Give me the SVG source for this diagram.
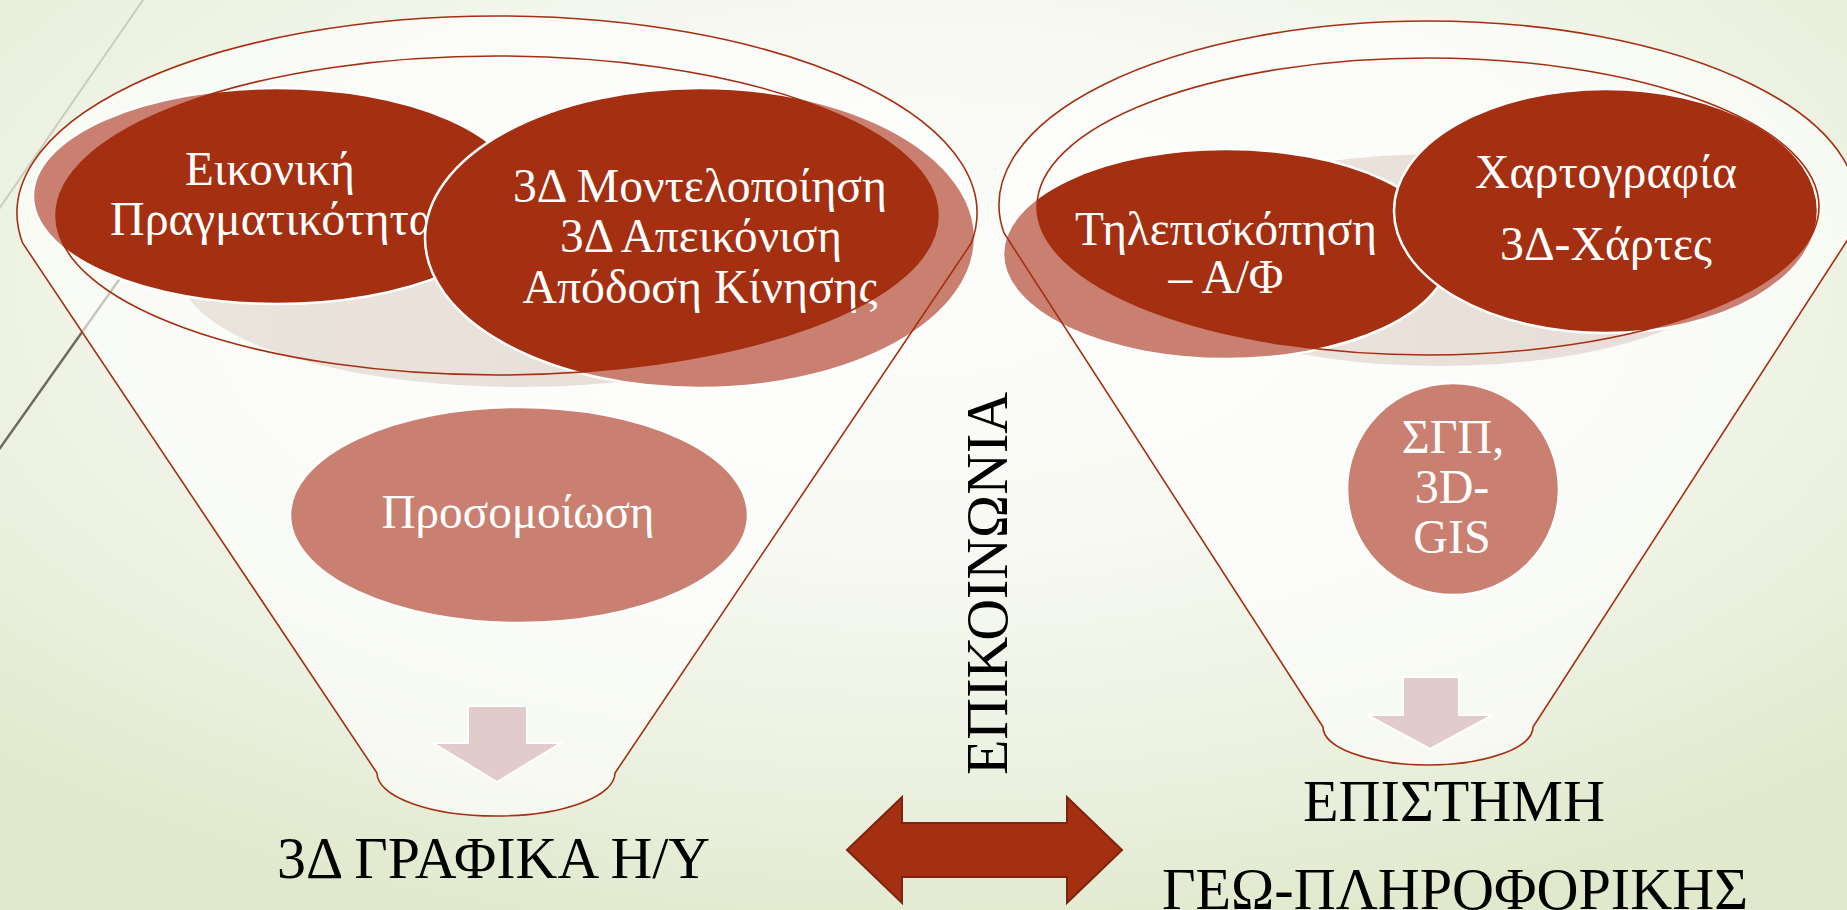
<svg xmlns="http://www.w3.org/2000/svg" width="1847" height="910" viewBox="0 0 1847 910">
<defs>
<radialGradient id="bg" cx="0.5" cy="0.32" r="0.72">
<stop offset="0" stop-color="#FCFDFB"/>
<stop offset="0.4" stop-color="#F7F9F2"/>
<stop offset="0.78" stop-color="#EAF0DE"/>
<stop offset="1" stop-color="#E1E9CD"/>
</radialGradient>
<linearGradient id="pinkL" x1="0" y1="0" x2="1" y2="0">
<stop offset="0" stop-color="#EAE4DC"/>
<stop offset="1" stop-color="#E8DCD8"/>
</linearGradient>
<clipPath id="clipL"><ellipse cx="497" cy="215.5" rx="441" ry="159.5"/></clipPath>
<clipPath id="clipR"><ellipse cx="1428" cy="206.5" rx="391" ry="148.5"/></clipPath>
<style>
.body{fill:#FFFFFF;fill-opacity:.62;stroke:none}
.outline{fill:none;stroke:#A52F11;stroke-width:1.6}
.pink{fill:url(#pinkL)}
.light{fill:#C98070}
.dark{fill:#A52F11}
.ring{fill:none;stroke:#FFFFFF;stroke-width:2.5}
.t{font-family:"Liberation Serif","Times New Roman",serif;fill:#FFFFFF;font-size:48px;text-anchor:middle}
.b{font-family:"Liberation Serif","Times New Roman",serif;fill:#000000;font-size:60px;text-anchor:middle}
.down{fill:#E2CBCB;stroke:#FFFFFF;stroke-width:2}
.dbl{fill:#A52F11;stroke:#7D2410;stroke-width:2}
</style>
</defs>
<rect x="0" y="0" width="1847" height="910" fill="url(#bg)"/>
<g id="decor">
<line x1="143" y1="0" x2="-1" y2="209" stroke="#C9CDB9" stroke-width="2"/>
<line x1="150" y1="236" x2="-2" y2="451" stroke="#6E6B58" stroke-width="2.5"/>
</g>
<g id="funnel-left-body">
<path class="body" d="M22.6,243 A480,197 0 1 1 971.4,243 L615,773 A119,43 0 0 1 377,773 Z"/>
<ellipse class="pink" cx="520" cy="272" rx="340" ry="115"/>
</g>
<g id="funnel-right-body">
<path class="body" d="M1004,233 A429,184 0 1 1 1852,233 L1533,727 A105,38 0 0 1 1323,727 Z"/>
<ellipse class="pink" cx="1440" cy="260" rx="300" ry="106"/>
</g>
<g id="node-vr">
<ellipse class="light" cx="277" cy="196" rx="244" ry="108"/>
<ellipse class="dark" cx="277" cy="196" rx="244" ry="108" clip-path="url(#clipL)"/>
<ellipse class="ring" cx="277" cy="196" rx="244" ry="108"/>
<text class="t" x="270" y="185" textLength="170" lengthAdjust="spacingAndGlyphs">Εικονική</text>
<text class="t" x="272" y="235">Πραγματικότητα</text>
</g>
<g id="node-3d">
<ellipse class="light" cx="700" cy="238" rx="275" ry="150"/>
<ellipse class="dark" cx="700" cy="238" rx="275" ry="150" clip-path="url(#clipL)"/>
<ellipse class="ring" cx="700" cy="238" rx="275" ry="150"/>
<text class="t" x="700" y="202" textLength="374" lengthAdjust="spacingAndGlyphs">3Δ Μοντελοποίηση</text>
<text class="t" x="701" y="252" textLength="282" lengthAdjust="spacingAndGlyphs">3Δ Απεικόνιση</text>
<text class="t" x="700" y="303" textLength="355" lengthAdjust="spacingAndGlyphs">Απόδοση Κίνησης</text>
</g>
<g id="node-sim">
<ellipse class="light" cx="519" cy="515" rx="229" ry="108"/>
<ellipse class="ring" cx="519" cy="515" rx="229" ry="108"/>
<text class="t" x="518" y="528" textLength="273" lengthAdjust="spacingAndGlyphs">Προσομοίωση</text>
</g>
<g id="node-rs">
<ellipse class="light" cx="1226" cy="254" rx="223" ry="105"/>
<ellipse class="dark" cx="1226" cy="254" rx="223" ry="105" clip-path="url(#clipR)"/>
<ellipse class="ring" cx="1226" cy="254" rx="223" ry="105"/>
<text class="t" x="1226" y="245" textLength="302" lengthAdjust="spacingAndGlyphs">Τηλεπισκόπηση</text>
<text class="t" x="1226" y="293" textLength="115" lengthAdjust="spacingAndGlyphs">– Α/Φ</text>
</g>
<g id="node-carto">
<ellipse class="light" cx="1606" cy="211" rx="212" ry="122"/>
<ellipse class="dark" cx="1606" cy="211" rx="212" ry="122" clip-path="url(#clipR)"/>
<ellipse class="ring" cx="1606" cy="211" rx="212" ry="122"/>
<text class="t" x="1606" y="188" textLength="262" lengthAdjust="spacingAndGlyphs">Χαρτογραφία</text>
<text class="t" x="1606" y="260" textLength="212" lengthAdjust="spacingAndGlyphs">3Δ-Χάρτες</text>
</g>
<g id="node-gis">
<ellipse class="light" cx="1453" cy="489" rx="106" ry="106"/>
<ellipse class="ring" cx="1453" cy="489" rx="106" ry="106"/>
<text class="t" x="1453" y="453">ΣΓΠ,</text>
<text class="t" x="1452" y="503">3D-</text>
<text class="t" x="1452" y="553">GIS</text>
</g>
<g id="funnel-left-outline">
<path class="outline" d="M22.6,243 A480,197 0 1 1 971.4,243 L615,773 A119,43 0 0 1 377,773 Z"/>
<ellipse class="outline" cx="497" cy="215.5" rx="441" ry="159.5"/>
</g>
<g id="funnel-right-outline">
<path class="outline" d="M1004,233 A429,184 0 1 1 1852,233 L1533,727 A105,38 0 0 1 1323,727 Z"/>
<ellipse class="outline" cx="1428" cy="206.5" rx="391" ry="148.5"/>
</g>
<g id="connectors">
<polygon class="down" points="468,706 527,706 527,743 561,743 497,782 433,743 468,743"/>
<polygon class="down" points="1403,677 1459,677 1459,715 1493,715 1430,749 1367,715 1403,715"/>
<polygon class="dbl" points="847,850 902,797 902,823 1067,823 1067,797 1122,850 1067,903 1067,877 902,877 902,903"/>
</g>
<g id="label-communication">
<text class="b" transform="translate(1007,583.5) rotate(-90)" x="0" y="0" textLength="383" lengthAdjust="spacingAndGlyphs">ΕΠΙΚΟΙΝΩΝΙΑ</text>
</g>
<g id="result-left">
<text class="b" x="493.5" y="878" textLength="433" lengthAdjust="spacingAndGlyphs">3Δ ΓΡΑΦΙΚΑ Η/Υ</text>
</g>
<g id="result-right">
<text class="b" x="1454" y="821" textLength="302" lengthAdjust="spacingAndGlyphs">ΕΠΙΣΤΗΜΗ</text>
<text class="b" x="1455" y="909" textLength="586" lengthAdjust="spacingAndGlyphs">ΓΕΩ-ΠΛΗΡΟΦΟΡΙΚΗΣ</text>
</g>
</svg>
